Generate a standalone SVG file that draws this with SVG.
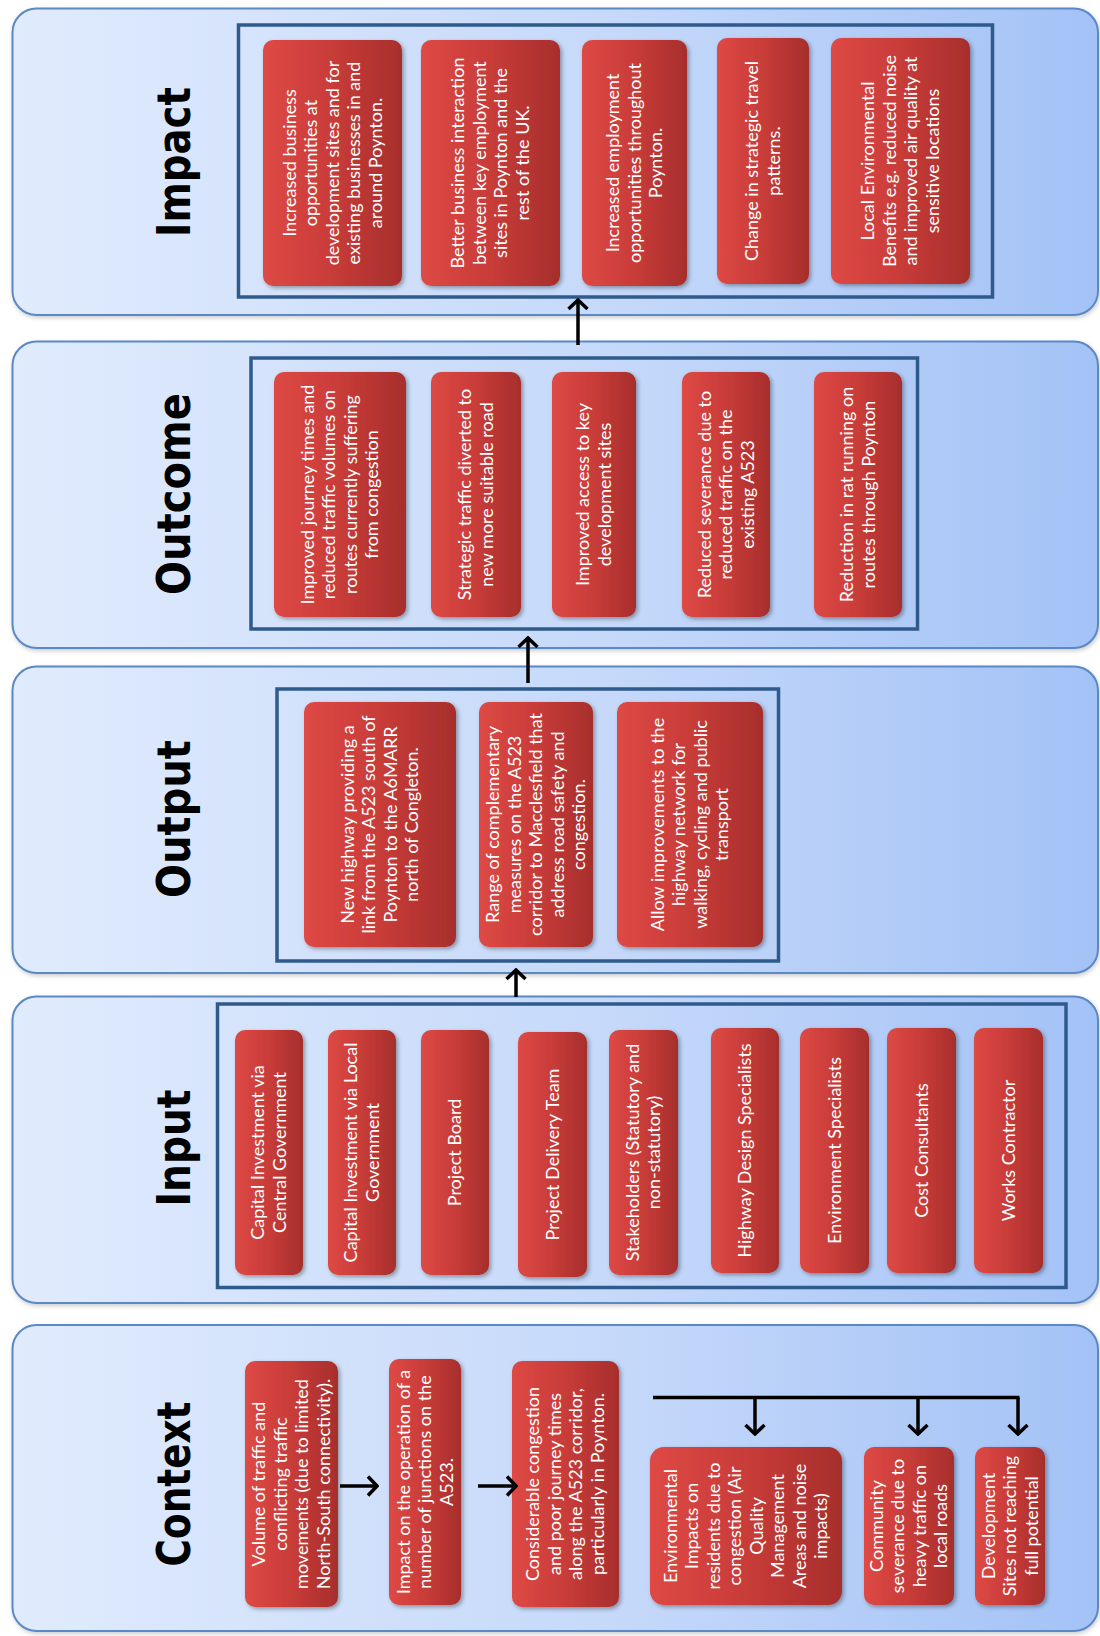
<svg xmlns="http://www.w3.org/2000/svg" width="1100" height="1636" viewBox="0 0 1100 1636">
  <defs>
    <linearGradient id="panelFill" x1="0" y1="0" x2="1" y2="0">
      <stop offset="0" stop-color="#e0ebfd"/>
      <stop offset="0.55" stop-color="#c6d9fa"/>
      <stop offset="1" stop-color="#a3c2f6"/>
    </linearGradient>
    <linearGradient id="boxFill" x1="0" y1="0" x2="1" y2="0">
      <stop offset="0" stop-color="#de4945"/>
      <stop offset="0.5" stop-color="#c83c39"/>
      <stop offset="1" stop-color="#a72e2c"/>
    </linearGradient>
    <filter id="shadow" x="-10%" y="-10%" width="130%" height="130%">
      <feDropShadow dx="2" dy="2" stdDeviation="2" flood-color="#000" flood-opacity="0.35"/>
    </filter>
    <filter id="panelShadow" x="-5%" y="-5%" width="110%" height="110%">
      <feDropShadow dx="1" dy="2" stdDeviation="2" flood-color="#000" flood-opacity="0.2"/>
    </filter>
    <marker id="chev" viewBox="-12 -12 14 24" refX="0" refY="0" markerWidth="14" markerHeight="24" markerUnits="userSpaceOnUse" orient="auto">
      <path d="M-9,-9.5 L0,0 L-9,9.5" fill="none" stroke="#000" stroke-width="3.5" stroke-linejoin="miter"/>
    </marker>
    <style>
      .panel { fill: url(#panelFill); stroke: #5a89c6; stroke-width: 2; filter: url(#panelShadow); }
      .frame { fill: none; stroke: #2f5a8c; stroke-width: 3.5; }
      .box { fill: url(#boxFill); filter: url(#shadow); }
      .title { font-family: "DejaVu Sans", Verdana, sans-serif; font-weight: bold; font-size: 47px; fill: #000; }
      .t { font-family: Lato, "Liberation Sans", sans-serif; font-size: 18px; fill: #fff; text-anchor: middle; }
      .conn { fill: none; stroke: #000; stroke-width: 3.5; }
    </style>
  </defs>

  <rect width="1100" height="1636" fill="#fff"/>

  <!-- stage panels -->
  <g id="panels">
    <rect class="panel" x="12.5" y="8.5" width="1085.5" height="306.5" rx="24"/>
    <rect class="panel" x="12.5" y="341.5" width="1085.5" height="306.5" rx="24"/>
    <rect class="panel" x="12.5" y="666.5" width="1085.5" height="306.5" rx="24"/>
    <rect class="panel" x="12.5" y="996.5" width="1085.5" height="306.5" rx="24"/>
    <rect class="panel" x="12.5" y="1325" width="1085.5" height="306" rx="24"/>
  </g>

  <!-- grouping frames -->
  <g id="frames">
    <rect class="frame" x="238.5" y="25" width="754" height="272"/>
    <rect class="frame" x="251" y="358" width="666.5" height="271"/>
    <rect class="frame" x="277" y="689" width="501.5" height="272"/>
    <rect class="frame" x="217.5" y="1004" width="848.5" height="283.5"/>
  </g>

  <!-- stage titles -->
  <g id="titles">
    <text class="title" transform="translate(190,162) rotate(-90)" text-anchor="middle" textLength="150" lengthAdjust="spacingAndGlyphs">Impact</text>
    <text class="title" transform="translate(190,494) rotate(-90)" text-anchor="middle" textLength="202" lengthAdjust="spacingAndGlyphs">Outcome</text>
    <text class="title" transform="translate(190,819) rotate(-90)" text-anchor="middle" textLength="158" lengthAdjust="spacingAndGlyphs">Output</text>
    <text class="title" transform="translate(190,1148) rotate(-90)" text-anchor="middle" textLength="117" lengthAdjust="spacingAndGlyphs">Input</text>
    <text class="title" transform="translate(190,1484) rotate(-90)" text-anchor="middle" textLength="165" lengthAdjust="spacingAndGlyphs">Context</text>
  </g>

  <!-- Impact -->
  <g id="impact-1">
    <rect class="box" x="263" y="40" width="139" height="246" rx="10"/>
    <text class="t" transform="translate(332.5,163) rotate(-90)"><tspan x="0" y="-37">Increased business</tspan><tspan x="0" y="-15.5">opportunities at</tspan><tspan x="0" y="6">development sites and for</tspan><tspan x="0" y="27.5">existing businesses in and</tspan><tspan x="0" y="49">around Poynton.</tspan></text>
  </g>
  <g id="impact-2">
    <rect class="box" x="421" y="40" width="139" height="246" rx="10"/>
    <text class="t" transform="translate(490.5,163) rotate(-90)"><tspan x="0" y="-26.25">Better business interaction</tspan><tspan x="0" y="-4.75">between key employment</tspan><tspan x="0" y="16.75">sites in Poynton and the</tspan><tspan x="0" y="38.25">rest of the UK.</tspan></text>
  </g>
  <g id="impact-3">
    <rect class="box" x="582" y="40" width="105" height="246" rx="10"/>
    <text class="t" transform="translate(634.5,163) rotate(-90)"><tspan x="0" y="-15.5">Increased employment</tspan><tspan x="0" y="6">opportunities  throughout</tspan><tspan x="0" y="27.5">Poynton.</tspan></text>
  </g>
  <g id="impact-4">
    <rect class="box" x="717" y="38" width="92" height="246" rx="10"/>
    <text class="t" transform="translate(763,161) rotate(-90)"><tspan x="0" y="-4.75">Change in strategic travel</tspan><tspan x="0" y="16.75">patterns.</tspan></text>
  </g>
  <g id="impact-5">
    <rect class="box" x="831" y="38" width="139" height="246" rx="10"/>
    <text class="t" transform="translate(900.5,161) rotate(-90)"><tspan x="0" y="-26.25">Local Environmental</tspan><tspan x="0" y="-4.75">Benefits e.g. reduced noise</tspan><tspan x="0" y="16.75">and improved air quality at</tspan><tspan x="0" y="38.25">sensitive locations</tspan></text>
  </g>

  <!-- Outcome -->
  <g id="outcome-1">
    <rect class="box" x="274" y="372" width="132" height="245" rx="10"/>
    <text class="t" transform="translate(340,494.5) rotate(-90)"><tspan x="0" y="-26.25">Improved journey times and</tspan><tspan x="0" y="-4.75">reduced traffic volumes on</tspan><tspan x="0" y="16.75">routes currently suffering</tspan><tspan x="0" y="38.25">from congestion</tspan></text>
  </g>
  <g id="outcome-2">
    <rect class="box" x="431" y="372" width="90" height="245" rx="10"/>
    <text class="t" transform="translate(476,494.5) rotate(-90)"><tspan x="0" y="-4.75">Strategic traffic diverted to</tspan><tspan x="0" y="16.75">new more suitable road</tspan></text>
  </g>
  <g id="outcome-3">
    <rect class="box" x="552" y="372" width="84" height="245" rx="10"/>
    <text class="t" transform="translate(594,494.5) rotate(-90)"><tspan x="0" y="-4.75">Improved access to key</tspan><tspan x="0" y="16.75">development sites</tspan></text>
  </g>
  <g id="outcome-4">
    <rect class="box" x="682" y="372" width="88" height="245" rx="10"/>
    <text class="t" transform="translate(726,494.5) rotate(-90)"><tspan x="0" y="-15.5">Reduced severance due to</tspan><tspan x="0" y="6">reduced traffic on the</tspan><tspan x="0" y="27.5">existing A523</tspan></text>
  </g>
  <g id="outcome-5">
    <rect class="box" x="814" y="372" width="88" height="245" rx="10"/>
    <text class="t" transform="translate(858,494.5) rotate(-90)"><tspan x="0" y="-4.75">Reduction in rat running on</tspan><tspan x="0" y="16.75">routes through Poynton</tspan></text>
  </g>

  <!-- Output -->
  <g id="output-1">
    <rect class="box" x="304" y="702" width="152" height="245" rx="10"/>
    <text class="t" transform="translate(380,824.5) rotate(-90)"><tspan x="0" y="-26.25">New highway providing a</tspan><tspan x="0" y="-4.75">link from the A523 south of</tspan><tspan x="0" y="16.75">Poynton to the A6MARR</tspan><tspan x="0" y="38.25">north of Congleton.</tspan></text>
  </g>
  <g id="output-2">
    <rect class="box" x="479" y="702" width="114" height="245" rx="10"/>
    <text class="t" transform="translate(536,824.5) rotate(-90)"><tspan x="0" y="-37">Range of complementary</tspan><tspan x="0" y="-15.5">measures on the A523</tspan><tspan x="0" y="6">corridor to Macclesfield that</tspan><tspan x="0" y="27.5">address road safety and</tspan><tspan x="0" y="49">congestion.</tspan></text>
  </g>
  <g id="output-3">
    <rect class="box" x="617" y="702" width="146" height="245" rx="10"/>
    <text class="t" transform="translate(690,824.5) rotate(-90)"><tspan x="0" y="-26.25">Allow improvements to the</tspan><tspan x="0" y="-4.75">highway network for</tspan><tspan x="0" y="16.75">walking, cycling and public</tspan><tspan x="0" y="38.25">transport</tspan></text>
  </g>

  <!-- Input -->
  <g id="input-1">
    <rect class="box" x="235" y="1030" width="68" height="245" rx="10"/>
    <text class="t" transform="translate(269,1152.5) rotate(-90)"><tspan x="0" y="-4.75">Capital Investment via</tspan><tspan x="0" y="16.75">Central Government</tspan></text>
  </g>
  <g id="input-2">
    <rect class="box" x="328" y="1030" width="68" height="245" rx="10"/>
    <text class="t" transform="translate(362,1152.5) rotate(-90)"><tspan x="0" y="-4.75">Capital Investment via Local</tspan><tspan x="0" y="16.75">Government</tspan></text>
  </g>
  <g id="input-3">
    <rect class="box" x="421" y="1030" width="68" height="245" rx="10"/>
    <text class="t" transform="translate(455,1152.5) rotate(-90)"><tspan x="0" y="6">Project Board</tspan></text>
  </g>
  <g id="input-4">
    <rect class="box" x="518" y="1032" width="69" height="245" rx="10"/>
    <text class="t" transform="translate(552.5,1154.5) rotate(-90)"><tspan x="0" y="6">Project Delivery Team</tspan></text>
  </g>
  <g id="input-5">
    <rect class="box" x="609" y="1030" width="69" height="245" rx="10"/>
    <text class="t" transform="translate(643.5,1152.5) rotate(-90)"><tspan x="0" y="-4.75">Stakeholders (Statutory and</tspan><tspan x="0" y="16.75">non-statutory)</tspan></text>
  </g>
  <g id="input-6">
    <rect class="box" x="711" y="1028" width="68" height="245" rx="10"/>
    <text class="t" transform="translate(745,1150.5) rotate(-90)"><tspan x="0" y="6">Highway Design Specialists</tspan></text>
  </g>
  <g id="input-7">
    <rect class="box" x="800" y="1028" width="69" height="245" rx="10"/>
    <text class="t" transform="translate(834.5,1150.5) rotate(-90)"><tspan x="0" y="6">Environment Specialists</tspan></text>
  </g>
  <g id="input-8">
    <rect class="box" x="887" y="1028" width="69" height="245" rx="10"/>
    <text class="t" transform="translate(921.5,1150.5) rotate(-90)"><tspan x="0" y="6">Cost Consultants</tspan></text>
  </g>
  <g id="input-9">
    <rect class="box" x="974" y="1028" width="69" height="245" rx="10"/>
    <text class="t" transform="translate(1008.5,1150.5) rotate(-90)"><tspan x="0" y="6">Works Contractor</tspan></text>
  </g>

  <!-- Context -->
  <g id="context-1">
    <rect class="box" x="245" y="1361" width="93" height="246" rx="10"/>
    <text class="t" transform="translate(291.5,1484) rotate(-90)"><tspan x="0" y="-26.25">Volume of traffic and</tspan><tspan x="0" y="-4.75">conflicting traffic</tspan><tspan x="0" y="16.75">movements (due to limited</tspan><tspan x="0" y="38.25">North-South connectivity).</tspan></text>
  </g>
  <g id="context-2">
    <rect class="box" x="389" y="1359" width="72" height="246" rx="10"/>
    <text class="t" transform="translate(425,1482) rotate(-90)"><tspan x="0" y="-15.5">Impact on the operation of a</tspan><tspan x="0" y="6">number of junctions on the</tspan><tspan x="0" y="27.5">A523.</tspan></text>
  </g>
  <g id="context-3">
    <rect class="box" x="512" y="1361" width="107" height="246" rx="10"/>
    <text class="t" transform="translate(565.5,1484) rotate(-90)"><tspan x="0" y="-26.25">Considerable congestion</tspan><tspan x="0" y="-4.75">and poor journey times</tspan><tspan x="0" y="16.75">along the A523 corridor,</tspan><tspan x="0" y="38.25">particularly in Poynton.</tspan></text>
  </g>
  <g id="context-4">
    <rect class="box" x="650" y="1447" width="192" height="158" rx="14"/>
    <text class="t" transform="translate(746,1526) rotate(-90)"><tspan x="0" y="-69.25">Environmental</tspan><tspan x="0" y="-47.75">Impacts on</tspan><tspan x="0" y="-26.25">residents due to</tspan><tspan x="0" y="-4.75">congestion (Air</tspan><tspan x="0" y="16.75">Quality</tspan><tspan x="0" y="38.25">Management</tspan><tspan x="0" y="59.75">Areas and noise</tspan><tspan x="0" y="81.25">impacts)</tspan></text>
  </g>
  <g id="context-5">
    <rect class="box" x="864" y="1447" width="90" height="158" rx="10"/>
    <text class="t" transform="translate(909,1526) rotate(-90)"><tspan x="0" y="-26.25">Community</tspan><tspan x="0" y="-4.75">severance due to</tspan><tspan x="0" y="16.75">heavy traffic on</tspan><tspan x="0" y="38.25">local roads</tspan></text>
  </g>
  <g id="context-6">
    <rect class="box" x="975" y="1447" width="70" height="158" rx="10"/>
    <text class="t" transform="translate(1010,1526) rotate(-90)"><tspan x="0" y="-15.5">Development</tspan><tspan x="0" y="6">Sites not reaching</tspan><tspan x="0" y="27.5">full potential</tspan></text>
  </g>

  <!-- connectors -->
  <g id="connectors">
    <path class="conn" d="M578,345 L578,300" marker-end="url(#chev)"/>
    <path class="conn" d="M528,683 L528,638" marker-end="url(#chev)"/>
    <path class="conn" d="M516,997 L516,970" marker-end="url(#chev)"/>
    <path class="conn" d="M340,1486 L377,1486" marker-end="url(#chev)"/>
    <path class="conn" d="M478,1486 L516,1486" marker-end="url(#chev)"/>
    <path class="conn" d="M653,1397.5 L1019.5,1397.5"/>
    <path class="conn" d="M755,1397.5 L755,1434" marker-end="url(#chev)"/>
    <path class="conn" d="M918,1397.5 L918,1434" marker-end="url(#chev)"/>
    <path class="conn" d="M1018,1397.5 L1018,1434" marker-end="url(#chev)"/>
  </g>
</svg>
